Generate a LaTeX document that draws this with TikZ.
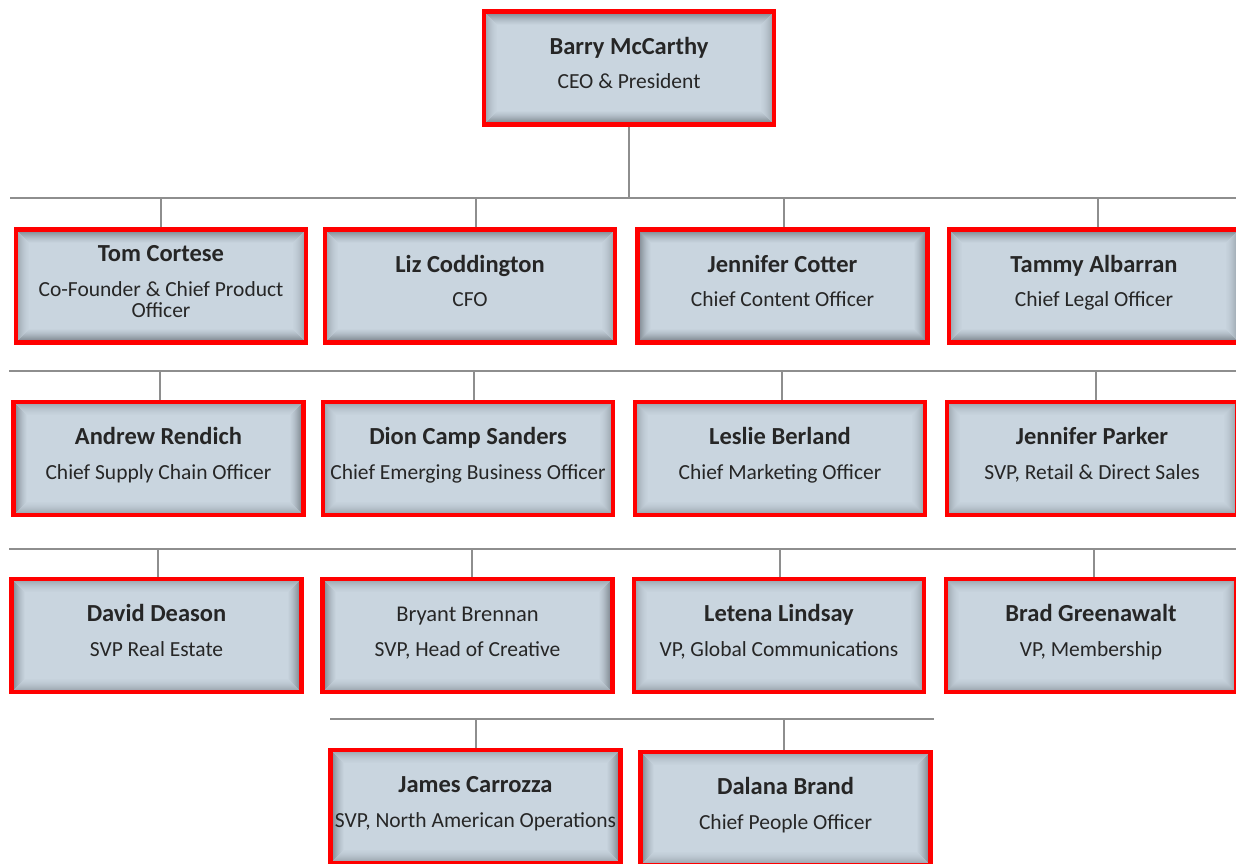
\documentclass[tikz,border=0pt]{standalone}
\usepackage{fontspec}
\setmainfont{Carlito}
\definecolor{boxfill}{HTML}{C9D5DF}
\definecolor{shade}{HTML}{505860}
\definecolor{wiregray}{HTML}{8E8E8E}
\definecolor{txt}{HTML}{262626}
\newcommand\orgperson[6]{%
  \node[pbox] (#1) at (#2,#3) {};
  \node[#6, anchor=base] (#1-name) at ([yshift=14pt]#1.center) {#4};
  \node[ptitle, anchor=base] (#1-title) at ([yshift=-20.5pt]#1.center) {#5};
}
\newcommand\hookup[3]{%
  \coordinate (#1-c) at ([xshift=#3pt]#1.north);
  \draw[wire] (#1-c) -- (#1-c |- #2);
}
\tikzset{
  pbox/.style={draw=red, line width=4.5pt, fill=boxfill, minimum width=290pt,
    minimum height=113pt, inner sep=0pt,
    path picture={
      \foreach \i/\o in {2.5/0.32,3.5/0.28,4.5/0.24,5.5/0.2,6.5/0.16,7.5/0.13,8.5/0.1,9.5/0.075,10.5/0.055,11.5/0.04,12.5/0.025}{
        \draw[line width=1.1pt, draw=shade, opacity=\o]
          ([xshift=\i pt,yshift=\i pt]path picture bounding box.south west) rectangle
          ([xshift=-\i pt,yshift=-\i pt]path picture bounding box.north east);
      }
    }},
  pname/.style={font=\bfseries\fontsize{24.5}{28}\selectfont, text=txt, inner sep=0pt},
  pnamereg/.style={font=\fontsize{22.5}{26}\selectfont, text=txt, inner sep=0pt},
  ptitle/.style={font=\fontsize{21.5}{25}\selectfont, text=txt, inner sep=0pt},
  wire/.style={draw=wiregray, line width=2pt}
}
\begin{document}
\begin{tikzpicture}[x=1pt,y=-1pt]
\useasboundingbox[fill=white] (0,0) rectangle (1236,863);
% buses
\coordinate (bus1L) at (10,198);   \coordinate (bus1R) at (1240,198);
\coordinate (bus2L) at (9,371);    \coordinate (bus2R) at (1240,371);
\coordinate (bus3L) at (9,549);    \coordinate (bus3R) at (1240,549);
\coordinate (bus4L) at (330,719);  \coordinate (bus4R) at (934,719);
\draw[wire] (bus1L) -- (bus1R);
\draw[wire] (bus2L) -- (bus2R);
\draw[wire] (bus3L) -- (bus3R);
\draw[wire] (bus4L) -- (bus4R);
% people
\orgperson{barry}{629}{68}{Barry McCarthy}{CEO \& President}{pname}
\node[pbox] (tom) at (161,286) {};
\node[pname, anchor=base] (tom-name) at ([yshift=25pt]tom.center) {Tom Cortese};
\node[ptitle, anchor=base] (tom-title) at ([yshift=-10pt]tom.center) {Co-Founder \& Chief Product};
\node[ptitle, anchor=base] (tom-title2) at ([yshift=-31pt]tom.center) {Officer};
\orgperson{liz}{470}{286}{Liz Coddington}{CFO}{pname}
\orgperson{cotter}{782.5}{286}{Jennifer Cotter}{Chief Content Officer}{pname}
\orgperson{tammy}{1094}{286}{Tammy Albarran}{Chief Legal Officer}{pname}
\orgperson{andrew}{158.5}{458.5}{Andrew Rendich}{Chief Supply Chain Officer}{pname}
\orgperson{dion}{468}{458.5}{Dion Camp Sanders}{Chief Emerging Business Officer}{pname}
\orgperson{leslie}{780}{458.5}{Leslie Berland}{Chief Marketing Officer}{pname}
\orgperson{parker}{1092}{458.5}{Jennifer Parker}{SVP, Retail \& Direct Sales}{pname}
\orgperson{david}{156.5}{635.5}{David Deason}{SVP Real Estate}{pname}
\orgperson{bryant}{467.5}{635.5}{Bryant Brennan}{SVP, Head of Creative}{pnamereg}
\orgperson{letena}{779}{635.5}{Letena Lindsay}{VP, Global Communications}{pname}
\orgperson{brad}{1091}{635.5}{Brad Greenawalt}{VP, Membership}{pname}
\orgperson{james}{475.5}{806.5}{James Carrozza}{SVP, North American Operations}{pname}
\orgperson{dalana}{785.5}{808.5}{Dalana Brand}{Chief People Officer}{pname}
% connectors
\coordinate (barry-c) at (barry.south);
\draw[wire] (barry-c) -- (barry-c |- bus1L);
\hookup{tom}{bus1L}{0}
\hookup{liz}{bus1L}{6}
\hookup{cotter}{bus1L}{1.5}
\hookup{tammy}{bus1L}{4}
\hookup{andrew}{bus2L}{1.5}
\hookup{dion}{bus2L}{6}
\hookup{leslie}{bus2L}{2}
\hookup{parker}{bus2L}{4}
\hookup{david}{bus3L}{1.5}
\hookup{bryant}{bus3L}{4.5}
\hookup{letena}{bus3L}{1}
\hookup{brad}{bus3L}{3}
\hookup{james}{bus4L}{0.5}
\hookup{dalana}{bus4L}{-1.5}
\end{tikzpicture}
\end{document}
